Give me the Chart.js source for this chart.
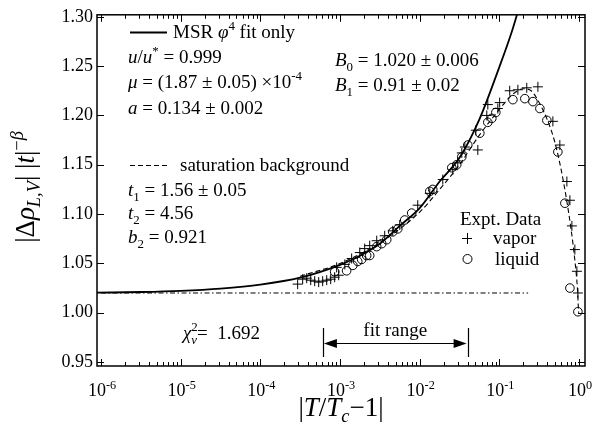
<!DOCTYPE html>
<html><head><meta charset="utf-8">
<script src="https://cdn.jsdelivr.net/npm/chart.js@4.4.1/dist/chart.umd.min.js"></script>
<style>html,body{margin:0;padding:0;background:#fff}</style>
</head><body>
<canvas id="c" width="593" height="429"></canvas>
<script>
// ---- data ----
const vaporT = [2.94e-4,3.40e-4,3.82e-4,4.29e-4,4.81e-4,5.40e-4,6.06e-4,6.81e-4,7.64e-4,8.57e-4,9.63e-4,
  9.08e-4,1.15e-3,1.40e-3,1.77e-3,2.04e-3,2.36e-3,2.89e-3,3.64e-3,4.59e-3,5.62e-3,9.46e-3,1.34e-2,1.95e-2,
  2.61e-2,3.01e-2,3.38e-2,3.69e-2,5.37e-2,5.07e-2,6.96e-2,7.17e-2,9.58e-2,0.101,0.135,0.171,0.221,0.305,
  0.470,0.575,0.705,0.769,0.815,0.888,0.941,0.969];
const vaporY = [1.029,1.034,1.035,1.033,1.032,1.031,1.032,1.033,1.034,1.036,1.038,
  1.046,1.049,1.055,1.061,1.065,1.068,1.073,1.078,1.083,1.089,1.109,1.121,1.135,
  1.145,1.152,1.162,1.168,1.165,1.185,1.200,1.211,1.207,1.213,1.225,1.226,1.228,1.229,
  1.194,1.170,1.133,1.114,1.088,1.064,1.042,1.020];
const liquidT = [8.57e-4,1.21e-3,1.45e-3,1.67e-3,1.87e-3,2.16e-3,2.36e-3,2.89e-3,3.34e-3,3.86e-3,4.59e-3,
  5.31e-3,6.49e-3,7.94e-3,1.34e-2,1.46e-2,2.53e-2,2.92e-2,3.38e-2,4.02e-2,5.69e-2,7.17e-2,8.05e-2,9.04e-2,
  0.148,0.209,0.264,0.323,0.395,0.543,0.665,0.769,0.969];
const liquidY = [1.0415,1.0425,1.048,1.052,1.054,1.058,1.058,1.067,1.070,1.074,1.082,
  1.085,1.094,1.101,1.123,1.125,1.147,1.150,1.158,1.170,1.182,1.193,1.197,1.203,
  1.216,1.217,1.214,1.207,1.195,1.163,1.111,1.025,1.001];
const fitT = [8.9e-7,3.16e-6,1e-5,3.16e-5,1e-4,3.16e-4,1e-3,1.78e-3,3.16e-3,5.62e-3,1e-2,1.78e-2,3.16e-2,5.62e-2,0.1,0.141,0.178];
const fitY = [1.0203,1.0210,1.0222,1.0245,1.0285,1.0355,1.0485,1.0578,1.0700,1.0880,1.1060,1.1330,1.1570,1.1960,1.2490,1.2830,1.3100];
const satT = [3.16e-4,1e-3,3.16e-3,1e-2,1.78e-2,3.16e-2,5.62e-2,0.1,0.141,0.2,0.251,0.316,0.398,0.501,0.631,0.794,0.891,0.955,0.99];
const satY = [1.037,1.050,1.071,1.102,1.125,1.150,1.180,1.206,1.220,1.227,1.225,1.213,1.196,1.172,1.135,1.085,1.052,1.025,1.000];
const bgT = [1e-6, 0.23];
const bgY = [1.02, 1.02];
const fitRange = [6.1e-4, 0.040];
const yTickValues = [0.95,1.00,1.05,1.10,1.15,1.20,1.25,1.30];
const xTickExponents = [-6,-5,-4,-3,-2,-1,0];

const FONT = '"Liberation Serif","Times New Roman",serif';
const pts = (xs, ys) => xs.map((x, i) => ({x: x, y: ys[i]}));

function rich(ctx, x, y, segs, size, measureOnly) {
  let cx = x;
  for (const s of segs) {
    const small = s.sup || s.sub;
    const fs = small ? size * 0.68 : size;
    ctx.font = (s.i ? 'italic ' : '') + fs + 'px ' + FONT;
    const dy = s.sup ? -size * 0.4 : (s.sub ? size * 0.24 : 0);
    if (!measureOnly) ctx.fillText(s.t, cx, y + dy);
    if (!s.noadv) cx += ctx.measureText(s.t).width;
  }
  return cx - x;
}

const decor = {
  id: 'decor',
  afterDraw(chart) {
    const ctx = chart.ctx, a = chart.chartArea;
    const xs = chart.scales.x, ys = chart.scales.y;
    ctx.save();
    ctx.strokeStyle = '#000'; ctx.fillStyle = '#000';
    // frame
    ctx.lineWidth = 1.5;
    ctx.strokeRect(a.left, a.top, a.right - a.left, a.bottom - a.top);
    // inward ticks
    ctx.lineWidth = 1;
    ctx.beginPath();
    for (const e of xTickExponents) {
      for (let m = 1; m <= 9; m++) {
        const v = m * Math.pow(10, e);
        if (v < xs.min || v > xs.max) continue;
        const px = Math.round(xs.getPixelForValue(v)) + 0.5;
        const len = m === 1 ? 7 : 4;
        ctx.moveTo(px, a.bottom); ctx.lineTo(px, a.bottom - len);
        ctx.moveTo(px, a.top); ctx.lineTo(px, a.top + len);
      }
    }
    for (const v of yTickValues) {
      const py = Math.round(ys.getPixelForValue(v)) + 0.5;
      ctx.moveTo(a.left, py); ctx.lineTo(a.left + 7, py);
      ctx.moveTo(a.right, py); ctx.lineTo(a.right - 7, py);
    }
    ctx.stroke();
    // x tick labels
    ctx.textBaseline = 'alphabetic';
    for (const e of xTickExponents) {
      const px = xs.getPixelForValue(Math.pow(10, e));
      const segs = [{t: '10'}, {t: e === 0 ? '0' : '-' + (-e), sup: true}];
      const w = rich(ctx, 0, 0, segs, 18, true);
      rich(ctx, px - w / 2 + 1, 396, segs, 18);
    }
    // axis titles
    const xt = [{t: '|'}, {t: 'T', i: true}, {t: '/'}, {t: 'T', i: true}, {t: 'c', i: true, sub: true}, {t: '\u2212'}, {t: '1|'}];
    const wx = rich(ctx, 0, 0, xt, 27, true);
    rich(ctx, (a.left + a.right) / 2 - wx / 2, 416, xt, 27);
    const yt = [{t: '|\u0394'}, {t: '\u03C1', i: true}, {t: 'L,V', i: true, sub: true}, {t: '| |'}, {t: 't', i: true}, {t: '|'}, {t: '\u2212', sup: true}, {t: '\u03B2', i: true, sup: true}];
    ctx.save();
    ctx.translate(34, 187);
    ctx.rotate(-Math.PI / 2);
    const wy = rich(ctx, 0, 0, yt, 27, true);
    rich(ctx, -wy / 2, 0, yt, 27);
    ctx.restore();
    // annotations
    const S = 19;
    ctx.lineWidth = 1.8;
    ctx.beginPath(); ctx.moveTo(130, 32.5); ctx.lineTo(167, 32.5); ctx.stroke();
    rich(ctx, 173, 38, [{t: 'MSR '}, {t: '\u03C6', i: true}, {t: '4', sup: true}, {t: ' fit only'}], S);
    rich(ctx, 128, 63, [{t: 'u', i: true}, {t: '/'}, {t: 'u', i: true}, {t: '*', sup: true}, {t: ' = 0.999'}], S);
    rich(ctx, 128, 88, [{t: '\u03BC', i: true}, {t: ' = (1.87 \u00B1 0.05) \u00D710'}, {t: '-4', sup: true}], S);
    rich(ctx, 128, 114, [{t: 'a', i: true}, {t: ' = 0.134 \u00B1 0.002'}], S);
    rich(ctx, 335, 66, [{t: 'B', i: true}, {t: '0', sub: true}, {t: ' = 1.020 \u00B1 0.006'}], S);
    rich(ctx, 335, 91, [{t: 'B', i: true}, {t: '1', sub: true}, {t: ' = 0.91 \u00B1 0.02'}], S);
    ctx.lineWidth = 1.2;
    ctx.setLineDash([5, 3]);
    ctx.beginPath(); ctx.moveTo(130, 165.5); ctx.lineTo(168, 165.5); ctx.stroke();
    ctx.setLineDash([]);
    rich(ctx, 180, 171, [{t: 'saturation background'}], S);
    rich(ctx, 128, 196, [{t: 't', i: true}, {t: '1', sub: true}, {t: ' = 1.56 \u00B1 0.05'}], S);
    rich(ctx, 128, 219, [{t: 't', i: true}, {t: '2', sub: true}, {t: ' = 4.56'}], S);
    rich(ctx, 128, 243, [{t: 'b', i: true}, {t: '2', sub: true}, {t: ' = 0.921'}], S);
    rich(ctx, 183, 339, [{t: '\u03C7', i: true}, {t: '2', sup: true, noadv: true}, {t: '\u03BD', i: true, sub: true}, {t: '=  1.692'}], S);
    // fit range
    const x1 = xs.getPixelForValue(fitRange[0]), x2 = xs.getPixelForValue(fitRange[1]);
    ctx.lineWidth = 1.2;
    ctx.beginPath();
    ctx.moveTo(Math.round(x1) + 0.5, 328); ctx.lineTo(Math.round(x1) + 0.5, 357);
    ctx.moveTo(Math.round(x2) + 0.5, 328); ctx.lineTo(Math.round(x2) + 0.5, 357);
    ctx.moveTo(x1 + 10, 343.5); ctx.lineTo(x2 - 10, 343.5);
    ctx.stroke();
    ctx.beginPath();
    ctx.moveTo(x1 + 1, 343.5); ctx.lineTo(x1 + 14, 339); ctx.lineTo(x1 + 14, 348); ctx.closePath();
    ctx.moveTo(x2 - 1, 343.5); ctx.lineTo(x2 - 14, 339); ctx.lineTo(x2 - 14, 348); ctx.closePath();
    ctx.fill();
    const fw = rich(ctx, 0, 0, [{t: 'fit range'}], S, true);
    rich(ctx, (x1 + x2) / 2 - fw / 2, 336, [{t: 'fit range'}], S);
    // data legend
    rich(ctx, 460, 225, [{t: 'Expt. Data'}], S);
    rich(ctx, 493, 244, [{t: 'vapor'}], S);
    rich(ctx, 495, 265, [{t: 'liquid'}], S);
    ctx.lineWidth = 1;
    ctx.beginPath();
    ctx.moveTo(462, 238.5); ctx.lineTo(472, 238.5);
    ctx.moveTo(467.5, 233); ctx.lineTo(467.5, 244);
    ctx.stroke();
    ctx.beginPath(); ctx.arc(467.5, 259, 4.5, 0, Math.PI * 2); ctx.stroke();
    ctx.restore();
  }
};

new Chart(document.getElementById('c'), {
  type: 'scatter',
  data: {
    datasets: [
      {data: pts(bgT, bgY), showLine: true, borderColor: '#000', borderWidth: 1, borderDash: [5, 2.5, 1.5, 2.5], pointRadius: 0},
      {data: pts(fitT, fitY), showLine: true, borderColor: '#000', borderWidth: 1.8, pointRadius: 0, cubicInterpolationMode: 'monotone'},
      {data: pts(satT, satY), showLine: true, borderColor: '#000', borderWidth: 1.1, borderDash: [5, 3], pointRadius: 0, cubicInterpolationMode: 'monotone'},
      {data: pts(vaporT, vaporY), showLine: false, pointStyle: 'cross', pointRadius: 5, borderColor: '#000', borderWidth: 1},
      {data: pts(liquidT, liquidY), showLine: false, pointStyle: 'circle', pointRadius: 4.3, borderColor: '#000', backgroundColor: 'rgba(0,0,0,0)', borderWidth: 1}
    ]
  },
  options: {
    responsive: false,
    animation: false,
    devicePixelRatio: 1,
    layout: {padding: {top: 4, right: 8, left: 0, bottom: 0}},
    plugins: {legend: {display: false}, tooltip: {enabled: false}},
    scales: {
      x: {
        type: 'logarithmic', min: 8.9e-7, max: 1.19,
        ticks: {display: false},
        grid: {display: false}, border: {display: false},
        afterFit: s => { s.height = 63; }
      },
      y: {
        type: 'linear', min: 0.946, max: 1.302,
        afterBuildTicks: s => { s.ticks = yTickValues.map(v => ({value: v})); },
        ticks: {callback: v => Number(v).toFixed(2), color: '#000', font: {family: FONT, size: 18}, padding: 4},
        grid: {display: false, drawTicks: false}, border: {display: false},
        afterFit: s => { s.width = 97; }
      }
    }
  },
  plugins: [decor]
});
</script>
</body></html>
